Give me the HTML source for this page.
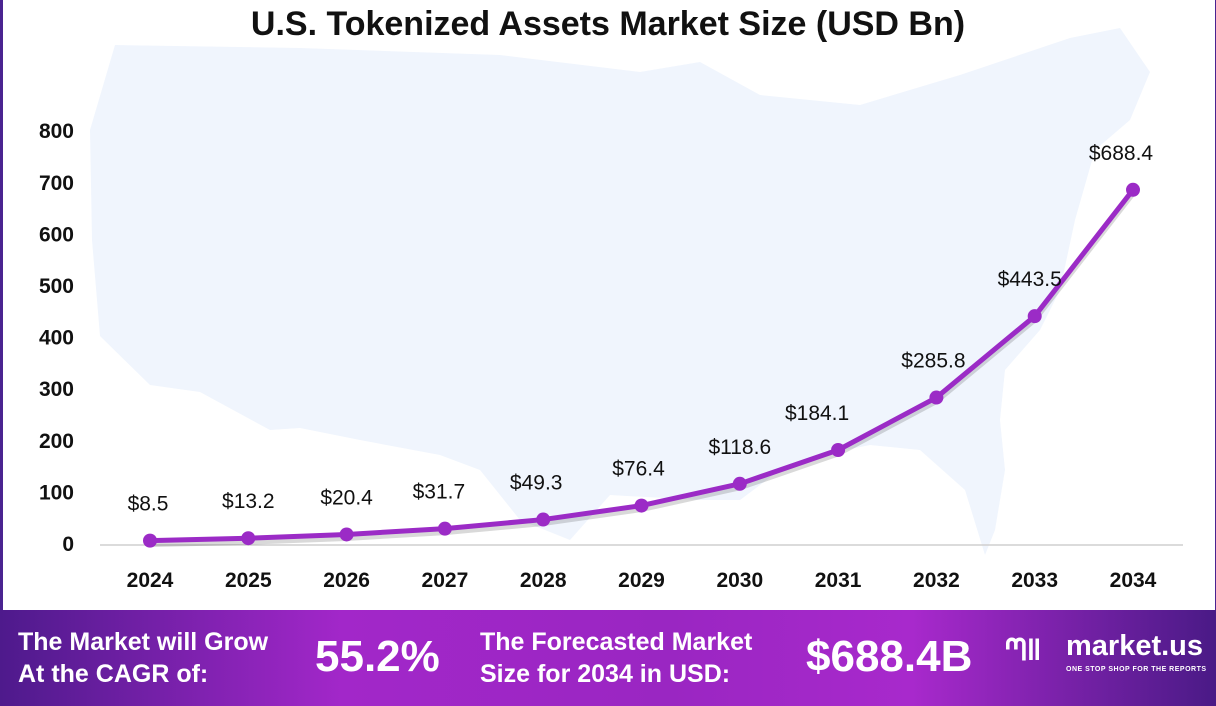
<!DOCTYPE html>
<html><head><meta charset="utf-8"><style>
body{margin:0;width:1216px;height:706px;overflow:hidden;background:#fff;font-family:"Liberation Sans",sans-serif}
#wrap{position:relative;width:1216px;height:706px}
#frame{position:absolute;left:0;top:0;width:1212px;height:610px;border-left:3px solid #4a2390;border-right:2px solid #4a2390}
#title{position:absolute;left:0;width:1216px;top:5px;text-align:center;font-weight:bold;font-size:34px;color:#111}
#footer{position:absolute;left:0;top:610px;width:1216px;height:96px;background:linear-gradient(90deg,#4e1a8c 0%,#a227c9 28%,#9a26c2 55%,#a829cc 75%,#4a1a86 100%);color:#fff;font-weight:bold}
.ft{position:absolute;font-size:25px;line-height:32px}
.big{position:absolute;font-size:44px;top:22px}
</style></head><body>
<div id="wrap">
<div id="frame"></div>
<div id="title">U.S. Tokenized Assets Market Size (USD Bn)</div>
<svg id="chart" width="1216" height="610" style="position:absolute;left:0;top:0">
<polygon fill="#f0f5fd" points="115,45 300,48 500,55 640,72 700,62 760,95 860,105 960,75 1070,38 1120,28 1150,72 1130,120 1095,150 1075,220 1060,290 1040,330 1005,370 1000,420 1005,470 995,530 985,555 965,490 920,450 870,445 820,455 780,470 740,500 700,500 610,495 570,540 520,520 480,470 440,455 360,440 300,428 270,430 200,392 150,385 100,336 92,240 90,130"/>
</svg>
<div id="footer">
<div class="ft" style="left:18px;top:16px">The Market will Grow<br>At the CAGR of:</div>
<div class="big" style="left:315px">55.2%</div>
<div class="ft" style="left:480px;top:16px">The Forecasted Market<br>Size for 2034 in USD:</div>
<div class="big" style="left:806px">$688.4B</div>
<div style="position:absolute;left:1005px;top:24px;font-size:30px">ᘉ‖</div>
<div style="position:absolute;left:1066px;top:20px;font-size:29px">market.us</div>
<div style="position:absolute;left:1066px;top:56px;font-size:7px;letter-spacing:0.5px">ONE STOP SHOP FOR THE REPORTS</div>
</div>
</div>
<script>
const years=["2024","2025","2026","2027","2028","2029","2030","2031","2032","2033","2034"];
const values=[8.5,13.2,20.4,31.7,49.3,76.4,118.6,184.1,285.8,443.5,688.4];
const labels=["$8.5","$13.2","$20.4","$31.7","$49.3","$76.4","$118.6","$184.1","$285.8","$443.5","$688.4"];
const yTicks=[0,100,200,300,400,500,600,700,800];
const labelDx=[-2,0,0,-6,-7,-3,0,-21,-3,-5,-12];
const NS="http://www.w3.org/2000/svg";
const svg=document.getElementById('chart');
const x=i=>150+i*98.3;
const y=v=>545-v*0.516;
function mk(t,a){const e=document.createElementNS(NS,t);for(const k in a)e.setAttribute(k,a[k]);svg.appendChild(e);return e;}
const base=mk('line',{x1:100,x2:1183,y1:545,y2:545,stroke:'#cfcfcf','stroke-width':1.5});


yTicks.forEach(t=>{const e=mk('text',{x:74,y:y(t)+6,'text-anchor':'end','font-size':21,'font-weight':'bold',fill:'#111'});e.textContent=t;

});
years.forEach((yr,i)=>{const e=mk('text',{x:x(i),y:587,'text-anchor':'middle','font-size':21,'font-weight':'bold',fill:'#111'});e.textContent=yr;

});
const pts=values.map((v,i)=>x(i)+','+y(v)).join(' ');
const sh=mk('polyline',{points:values.map((v,i)=>x(i)+','+(y(v)+4)).join(' '),fill:'none',stroke:'rgba(0,0,0,0.15)','stroke-width':5});


const ln=mk('polyline',{points:pts,fill:'none',stroke:'#9b2bc6','stroke-width':5,'stroke-linejoin':'round'});


values.forEach((v,i)=>{const c=mk('circle',{cx:x(i),cy:y(v),r:7,fill:'#9b2bc6'});


const t=mk('text',{x:x(i)+labelDx[i],y:y(v)-30,'text-anchor':'middle','font-size':21,fill:'#111'});t.textContent=labels[i];

});
</script>
</body></html>
